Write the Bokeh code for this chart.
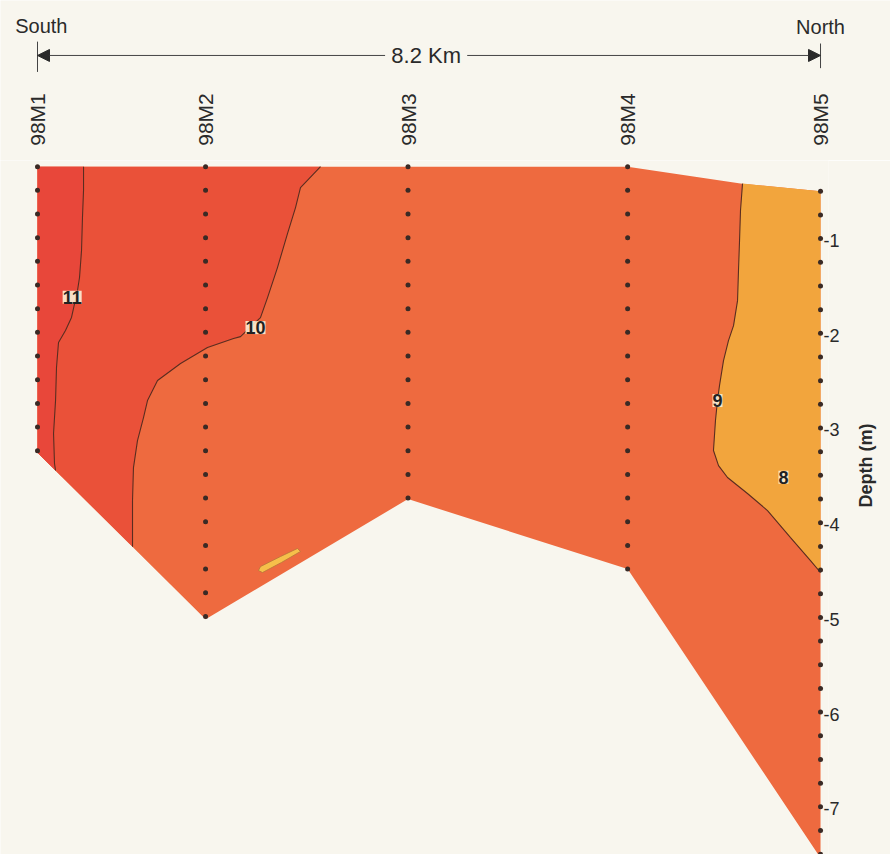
import math
import numpy as np
from bokeh.plotting import figure
from bokeh.models import (Range1d, ColumnDataSource, LabelSet, Arrow,
                          NormalHead, FixedTicker)
from bokeh.core.properties import value
from bokeh.embed import file_html
from bokeh.resources import INLINE

# ---------------- data ----------------
station_names = ["98M1", "98M2", "98M3", "98M4", "98M5"]
station_km = [0.0, 1.76, 3.88, 6.18, 8.2]
station_top = [-0.22, -0.22, -0.22, -0.22, -0.48]
station_bottom = [-3.24, -5.00, -3.73, -4.47, -7.52]
surface_bend_km = [7.38]
surface_bend_d = [-0.40]
sample_step_m = 0.25
section_length_km = 8.2

# isotherm 11
c11_km = [0.482, 0.482, 0.471, 0.461, 0.440, 0.419, 0.356, 0.293, 0.220,
          0.199, 0.189, 0.168, 0.178, 0.189]
c11_d = [-0.22, -0.473, -0.758, -1.106, -1.391, -1.528, -1.813, -1.951,
         -2.077, -2.341, -2.690, -3.038, -3.355, -3.429]
# isotherm 10
c10_km = [2.964, 2.754, 2.702, 2.618, 2.513, 2.409, 2.335, 2.126, 2.053,
          1.780, 1.498, 1.257, 1.152, 1.110, 1.047, 1.005, 0.995, 0.995]
c10_d = [-0.22, -0.441, -0.652, -0.927, -1.286, -1.603, -1.814, -2.015,
         -2.035, -2.130, -2.299, -2.479, -2.690, -2.870, -3.113, -3.398,
         -3.746, -4.235]
# isotherm 9
c9_km = [7.383, 7.362, 7.352, 7.341, 7.331, 7.289, 7.236, 7.184, 7.142,
         7.121, 7.100, 7.079, 7.132, 7.226, 7.435, 7.645, 7.886, 8.095, 8.2]
c9_d = [-0.399, -0.684, -1.001, -1.318, -1.635, -1.899, -2.057, -2.268,
        -2.532, -2.690, -2.901, -3.218, -3.377, -3.503, -3.672, -3.852,
        -4.137, -4.380, -4.506]
# small closed isotherm-9 patch near the bottom
blob_km = [2.335, 2.545, 2.723, 2.754, 2.555, 2.356, 2.314]
blob_d = [-4.443, -4.337, -4.252, -4.284, -4.400, -4.506, -4.485]

contour_label_text = ["11", "10", "9", "8"]
contour_label_km = [0.363, 2.283, 7.121, 7.812]
contour_label_d = [-1.60, -1.92, -2.69, -3.50]

depth_ticks = [-1, -2, -3, -4, -5, -6, -7]

# ---------------- style ----------------
BG = "#f8f6ee"
C_A = "#e8473a"   # > 11
C_B = "#ea5139"   # 10 - 11
C_C = "#ee6a3f"   # 9 - 10
C_D = "#f2a53d"   # < 9
C_BLOB = "#f6c04a"
LINE = "#5a2d20"
DOT = "#3a2a25"
TXT = "#2a2a2a"
FONT = "Liberation Sans"

X0 = -0.3875          # left page edge in km
PX_KM = 95.49
PX_M = 94.7
D0 = 145.3            # page row of depth 0
SPLIT = 160           # page row where header strip ends
FRAME_R = 828         # right edge of the section frame (page px)


def d_at(row):
    return (D0 - row) / PX_M


def style(fig):
    fig.background_fill_color = BG
    fig.border_fill_color = BG
    fig.outline_line_color = None
    fig.grid.visible = False


# ---------------- header strip ----------------
top = figure(width=890, height=SPLIT, output_backend="svg", toolbar_location=None,
             x_range=Range1d(X0, X0 + 890 / PX_KM), y_range=Range1d(d_at(SPLIT), d_at(0)),
             x_axis_location=None, y_axis_location=None,
             min_border_left=0, min_border_right=0, min_border_top=0,
             min_border_bottom=0)
style(top)

ay = 0.954
top.add_layout(Arrow(end=NormalHead(size=12, fill_color=TXT, line_color=TXT),
                     x_start=3.64, y_start=ay, x_end=station_km[0], y_end=ay,
                     line_color="#444444", line_width=1))
top.add_layout(Arrow(end=NormalHead(size=12, fill_color=TXT, line_color=TXT),
                     x_start=4.50, y_start=ay, x_end=station_km[4], y_end=ay,
                     line_color="#444444", line_width=1))
top.segment(x0=[station_km[0], station_km[4]], y0=[1.10, 1.08],
            x1=[station_km[0], station_km[4]], y1=[0.78, 0.82],
            line_color="#444444", line_width=1)
top.text(x=[4.07], y=[ay], text=[f"{section_length_km} Km"], text_align="center",
         text_baseline="middle", text_font=value(FONT), text_font_size="22px",
         text_color=TXT)
top.text(x=[0.04, 8.2], y=[1.26, 1.25], text=["South", "North"], text_align="center",
         text_baseline="middle", text_font=value(FONT), text_font_size="20px",
         text_color=TXT)
top.text(x=station_km, y=[0.278] * 5, text=station_names, angle=math.pi / 2,
         text_align="center", text_baseline="middle", text_font=value(FONT),
         text_font_size="21px", text_color=TXT)

# ---------------- section ----------------
p = figure(width=890, height=854 - SPLIT, output_backend="svg", toolbar_location=None,
           x_range=Range1d(X0, X0 + FRAME_R / PX_KM), y_range=Range1d(d_at(854), d_at(SPLIT)),
           x_axis_location=None, y_axis_location="right",
           min_border_left=0, min_border_right=890 - FRAME_R, min_border_top=0,
           min_border_bottom=0)
style(p)

top_x = station_km[:4] + surface_bend_km + [station_km[4]]
top_y = station_top[:4] + surface_bend_d + [station_top[4]]
bot_x = station_km[::-1]
bot_y = station_bottom[::-1]
p.patch(top_x + bot_x, top_y + bot_y, fill_color=C_C, line_color=None)

b_x = [station_km[0]] + c10_km + [station_km[0]]
b_y = [station_top[0]] + c10_d + [station_bottom[0]]
p.patch(b_x, b_y, fill_color=C_B, line_color=None)

a_x = [station_km[0]] + c11_km + [station_km[0]]
a_y = [station_top[0]] + c11_d + [station_bottom[0]]
p.patch(a_x, a_y, fill_color=C_A, line_color=None)

d_x = c9_km + [station_km[4]]
d_y = c9_d + [station_top[4]]
p.patch(d_x, d_y, fill_color=C_D, line_color=None)

p.patch(blob_km, blob_d, fill_color=C_BLOB, line_color="#b8743a", line_width=0.8)

for cx, cy in [(c11_km, c11_d), (c10_km, c10_d), (c9_km, c9_d)]:
    p.line(cx, cy, line_color=LINE, line_width=1.1)

dx, dy = [], []
for k, t, b in zip(station_km, station_top, station_bottom):
    ds = np.arange(t, b - 0.01, -sample_step_m)
    dx += [k] * len(ds)
    dy += list(ds)
p.scatter(dx, dy, size=5, fill_color=DOT, line_color=None)

lsrc = ColumnDataSource(dict(x=contour_label_km, y=contour_label_d, t=contour_label_text))
p.add_layout(LabelSet(x="x", y="y", text="t", source=lsrc, text_align="center",
                      text_baseline="middle", text_font=value(FONT),
                      text_font_size="18px", text_font_style="bold",
                      text_color="#222222", background_fill_color="#fcefd6",
                      background_fill_alpha=0.9))

ax = p.yaxis[0]
ax.ticker = FixedTicker(ticks=depth_ticks)
ax.major_label_overrides = {t: "-%d" % abs(t) for t in depth_ticks}
ax.axis_line_color = None
ax.major_tick_line_color = None
ax.minor_tick_line_color = None
ax.major_tick_out = 0
ax.major_tick_in = 0
ax.major_label_standoff = -5
ax.major_label_text_font = FONT
ax.major_label_text_font_size = "18px"
ax.major_label_text_color = TXT
ax.axis_label = "Depth (m)"
ax.axis_label_orientation = math.pi / 2
ax.axis_label_standoff = 23
ax.axis_label_text_font = FONT
ax.axis_label_text_font_size = "18px"
ax.axis_label_text_font_style = "bold"
ax.axis_label_text_color = TXT

html = file_html([top, p], INLINE)
html = html.replace("<body>", '<body style="background-color:%s;">' % BG, 1)
open("out.html", "w").write(html)
